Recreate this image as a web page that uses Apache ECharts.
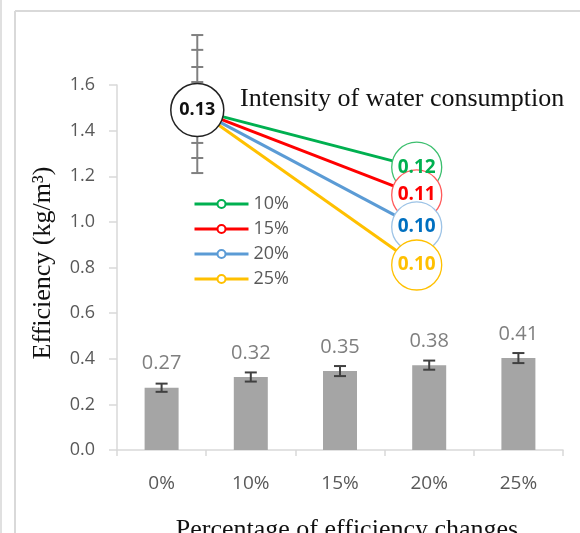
<!DOCTYPE html>
<html><head><meta charset="utf-8">
<script src="https://cdn.jsdelivr.net/npm/echarts@6/dist/echarts.min.js"></script>
<style>html,body{margin:0;padding:0;background:#fff}#c{width:580px;height:533px}</style>
</head><body><div id="c"></div>
<script>
// ---- data ----
const categories = ['0%', '10%', '15%', '20%', '25%'];
const barValues = [0.273, 0.320, 0.346, 0.372, 0.403];
const barLabels = ['0.27', '0.32', '0.35', '0.38', '0.41'];
const barErrors = [0.018, 0.020, 0.022, 0.020, 0.022];
const yTickMin = 0, yTickMax = 1.6, yTickStep = 0.2;
const seriesNames = ['10%', '15%', '20%', '25%'];
const startX = 0.9, startValue = 1.49, startLabel = '0.13';
const endX = 3.36;
const endValues = [1.24, 1.118, 0.978, 0.811];
const endLabels = ['0.12', '0.11', '0.10', '0.10'];
const startErrorTicks = [1.819, 1.754, 1.679, 1.613, 1.346, 1.28, 1.214];
const endErrorCap = [1.341, 1.328];
const titleText = 'Intensity of water consumption';
const yName = 'Efficiency (kg/m³)';
const xName = 'Percentage of efficiency changes';

// ---- styles ----
const lineColors = ['#00B050', '#FF0000', '#5B9BD5', '#FFC000'];
const circleBorders = ['#3CBF6E', '#FF5A5A', '#9DC3E6', '#FFC000'];
const labelColors = ['#00B050', '#FF0000', '#0070C0', '#FFC000'];
const sans = 'Open Sans';

const chart = echarts.init(document.getElementById('c'), null, {renderer: 'canvas'});

const lineSeries = seriesNames.map((n, i) => ({
  name: n, type: 'line', xAxisIndex: 1, yAxisIndex: 0,
  data: [[startX, startValue], [endX, endValues[i]]],
  symbol: 'emptyCircle', symbolSize: 9, showSymbol: false,
  lineStyle: {color: lineColors[i], width: 3},
  itemStyle: {color: lineColors[i], borderColor: lineColors[i]},
  z: 3, silent: true
}));

const capLine = (x1, y1, x2, y2, color) => ({type: 'line', shape: {x1, y1, x2, y2}, style: {stroke: color, lineWidth: 2}});

const option = {
  animation: false,
  grid: {left: 117, right: 17, top: 85, bottom: 83, containLabel: false},
  xAxis: [{
    type: 'category', data: categories,
    axisLine: {show: true, lineStyle: {color: '#d9d9d9', width: 1.5}},
    axisTick: {show: true, length: 6, lineStyle: {color: '#d9d9d9', width: 1.5}},
    axisLabel: {fontFamily: sans, fontSize: 19, color: '#595959', margin: 24},
    splitLine: {show: false}
  }, {
    type: 'value', min: 0, max: 5, show: false
  }],
  yAxis: [{
    type: 'value', min: yTickMin, max: yTickMax, interval: yTickStep,
    axisLine: {show: true, lineStyle: {color: '#d9d9d9', width: 1.5}},
    axisTick: {show: true, inside: false, length: 8, lineStyle: {color: '#d9d9d9', width: 1.5}},
    axisLabel: {fontFamily: sans, fontSize: 18, color: '#595959', margin: 22, formatter: v => v.toFixed(1)},
    splitLine: {show: false}
  }],
  legend: {
    data: seriesNames, orient: 'vertical', left: 188, top: 190,
    itemWidth: 54, itemHeight: 10, itemGap: 7,
    lineStyle: {width: 3},
    textStyle: {fontFamily: sans, fontSize: 18, color: '#595959'},
    selectedMode: false
  },
  graphic: [
    {type: 'line', shape: {x1: 1, y1: 0, x2: 1, y2: 533}, style: {stroke: '#e0e0e0', lineWidth: 2}},
    {type: 'line', shape: {x1: 15, y1: 11, x2: 15, y2: 533}, style: {stroke: '#d9d9d9', lineWidth: 2}},
    {type: 'line', shape: {x1: 15, y1: 11, x2: 580, y2: 11}, style: {stroke: '#d9d9d9', lineWidth: 2}},
    {type: 'text', left: 240, top: 86, style: {text: titleText, font: '26px "Liberation Serif"', fill: '#111'}, z: 10},
    {type: 'text', x: 43, y: 263, rotation: Math.PI / 2,
      style: {text: yName, font: '26px "Liberation Serif"', fill: '#111', align: 'center', verticalAlign: 'middle'}},
    {type: 'text', x: 347, y: 543,
      style: {text: xName, font: '26px "Liberation Serif"', fill: '#111', align: 'center', verticalAlign: 'bottom'}}
  ],
  series: [
    {
      type: 'bar', name: 'bars', data: barValues, barWidth: 34,
      itemStyle: {color: '#A5A5A5'},
      label: {show: true, position: 'top', distance: 14, fontFamily: sans, fontSize: 20, color: '#7f7f7f',
        formatter: p => barLabels[p.dataIndex]},
      z: 2, silent: true
    },
    {
      type: 'custom', name: 'barErr', xAxisIndex: 0, yAxisIndex: 0,
      data: barValues.map((v, i) => [i, v, barErrors[i]]),
      renderItem: (params, api) => {
        const x = api.value(0), v = api.value(1), e = api.value(2);
        const hi = api.coord([x, v + e]), lo = api.coord([x, v - e]);
        const w = 6, c = '#404040';
        return {type: 'group', children: [
          capLine(hi[0], hi[1], lo[0], lo[1], c),
          capLine(hi[0] - w, hi[1], hi[0] + w, hi[1], c),
          capLine(lo[0] - w, lo[1], lo[0] + w, lo[1], c)
        ]};
      }, z: 4, silent: true
    },
    ...lineSeries,
    {
      type: 'custom', name: 'startErr', xAxisIndex: 1, yAxisIndex: 0, clip: false,
      data: [[startX, Math.min(...startErrorTicks), Math.max(...startErrorTicks)]],
      renderItem: (params, api) => {
        const top = api.coord([api.value(0), api.value(2)]), bot = api.coord([api.value(0), api.value(1)]);
        const children = [capLine(top[0], top[1], bot[0], bot[1], '#808080')];
        startErrorTicks.forEach(t => {
          const p = api.coord([api.value(0), t]);
          children.push(capLine(p[0] - 6, p[1], p[0] + 6, p[1], '#808080'));
        });
        return {type: 'group', children};
      }, z: 4, silent: true
    },
    {
      type: 'custom', name: 'endErr', xAxisIndex: 1, yAxisIndex: 0, clip: false,
      data: [[endX, endErrorCap[0], endErrorCap[1]]],
      renderItem: (params, api) => {
        const top = api.coord([api.value(0), api.value(1)]), bot = api.coord([api.value(0), api.value(2)]);
        return {type: 'group', children: [
          capLine(top[0], top[1], bot[0], bot[1], '#808080'),
          capLine(top[0] - 6, top[1], top[0] + 6, top[1], '#808080')
        ]};
      }, z: 4, silent: true
    },
    {
      type: 'scatter', name: 'startCircle', xAxisIndex: 1, yAxisIndex: 0,
      data: [[startX, startValue]], symbol: 'circle', symbolSize: 53,
      itemStyle: {color: '#fff', borderColor: '#222', borderWidth: 1.5, opacity: 1},
      label: {show: true, position: 'inside', formatter: startLabel, fontFamily: sans, fontWeight: 'bold', fontSize: 18, color: '#111'},
      z: 6, silent: true
    },
    {
      type: 'scatter', name: 'endCircles', xAxisIndex: 1, yAxisIndex: 0,
      data: endValues.map((v, i) => ({
        value: [endX, v],
        itemStyle: {color: '#fff', borderColor: circleBorders[i], borderWidth: 1.3, opacity: 1},
        label: {color: labelColors[i], formatter: endLabels[i]}
      })),
      symbol: 'circle', symbolSize: 50,
      itemStyle: {opacity: 1},
      label: {show: true, position: 'inside', fontFamily: sans, fontWeight: 'bold', fontSize: 19},
      z: 6, silent: true
    }
  ]
};
chart.setOption(option);
</script></body></html>
